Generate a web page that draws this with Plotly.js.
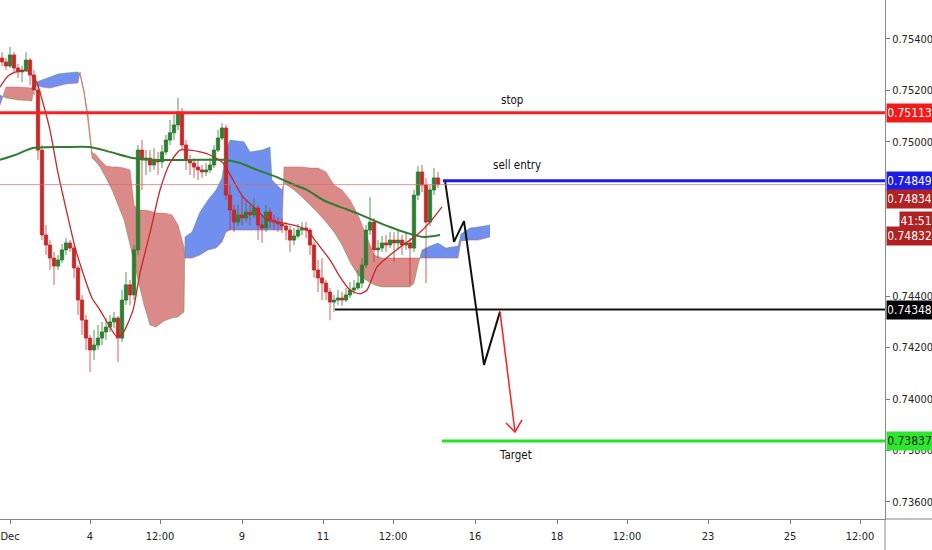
<!DOCTYPE html>
<html>
<head>
<meta charset="utf-8">
<script src="https://cdn.plot.ly/plotly-3.0.1.min.js"></script>
<style>
  html, body { margin: 0; padding: 0; background: #ffffff; }
  #chart { width: 932px; height: 550px; }
</style>
</head>
<body>
<div id="chart"></div>
<script>
// ---- AUDUSD-style price bars (one bar per slot on the time scale) ----
const open = [
  0.75326,0.75311,0.75295,0.75338,0.75287,0.75272,0.75279,0.75318,0.75260,0.75202,
  0.74968,0.74638,0.74599,0.74548,0.74517,0.74541,0.74580,0.74607,0.74587,0.74510,
  0.74385,0.74307,0.74237,0.74191,0.74210,0.74237,0.74261,0.74280,0.74300,0.74315,
  0.74237,0.74385,0.74444,0.74405,0.74580,0.74968,0.74930,0.74937,0.74910,0.74930,
  0.74922,0.74961,0.75007,0.75035,0.75066,0.75116,0.74988,0.74930,0.74918,0.74902,
  0.74891,0.74883,0.74891,0.74910,0.74968,0.75015,0.75054,0.74793,0.74735,0.74688,
  0.74716,0.74704,0.74727,0.74716,0.74743,0.74677,0.74665,0.74727,0.74696,0.74688,
  0.74681,0.74673,0.74657,0.74618,0.74634,0.74657,0.74665,0.74657,0.74599,0.74502,
  0.74471,0.74451,0.74416,0.74377,0.74385,0.74393,0.74385,0.74405,0.74424,0.74432,
  0.74451,0.74521,0.74657,0.74688,0.74580,0.74587,0.74607,0.74599,0.74618,0.74607,
  0.74618,0.74599,0.74607,0.74587,0.74793,0.74883,0.74832,0.74688,0.74813,0.74860
];
const high = [
  0.75349,0.75326,0.75369,0.75349,0.75303,0.75295,0.75349,0.75326,0.75279,0.75217,
  0.74988,0.74677,0.74618,0.74572,0.74560,0.74603,0.74626,0.74618,0.74595,0.74521,
  0.74405,0.74327,0.74249,0.74269,0.74288,0.74300,0.74315,0.74327,0.74339,0.74323,
  0.74424,0.74494,0.74463,0.74599,0.74988,0.75007,0.74968,0.74968,0.74976,0.74961,
  0.74988,0.75027,0.75085,0.75105,0.75171,0.75132,0.75007,0.74949,0.74937,0.74930,
  0.74910,0.74918,0.74937,0.74988,0.75046,0.75073,0.75066,0.74832,0.74755,0.74755,
  0.74793,0.74774,0.74755,0.74782,0.74755,0.74716,0.74755,0.74743,0.74716,0.74708,
  0.74704,0.74688,0.74673,0.74665,0.74681,0.74688,0.74688,0.74665,0.74611,0.74541,
  0.74548,0.74463,0.74432,0.74405,0.74424,0.74416,0.74432,0.74455,0.74463,0.74502,
  0.74548,0.74677,0.74786,0.74704,0.74618,0.74634,0.74638,0.74650,0.74650,0.74657,
  0.74638,0.74650,0.74626,0.74813,0.74906,0.74910,0.74860,0.74832,0.74898,0.74883
];
const low = [
  0.75295,0.75279,0.75287,0.75272,0.75248,0.75233,0.75272,0.75221,0.75182,0.74930,
  0.74618,0.74560,0.74502,0.74444,0.74502,0.74529,0.74560,0.74572,0.74471,0.74327,
  0.74249,0.74191,0.74105,0.74152,0.74191,0.74210,0.74230,0.74261,0.74276,0.74144,
  0.74222,0.74366,0.74366,0.74385,0.74560,0.74813,0.74871,0.74883,0.74891,0.74871,
  0.74898,0.74949,0.74988,0.75007,0.75046,0.74968,0.74891,0.74871,0.74860,0.74852,
  0.74860,0.74867,0.74879,0.74898,0.74961,0.75007,0.74774,0.74657,0.74650,0.74673,
  0.74677,0.74688,0.74677,0.74704,0.74618,0.74607,0.74650,0.74665,0.74657,0.74650,
  0.74646,0.74618,0.74572,0.74599,0.74626,0.74638,0.74626,0.74560,0.74471,0.74416,
  0.74385,0.74385,0.74307,0.74339,0.74366,0.74362,0.74377,0.74393,0.74409,0.74424,
  0.74432,0.74510,0.74638,0.74533,0.74548,0.74572,0.74572,0.74587,0.74533,0.74580,
  0.74560,0.74580,0.74444,0.74572,0.74774,0.74805,0.74451,0.74673,0.74793,0.74821
];
const close = [
  0.75311,0.75295,0.75338,0.75287,0.75272,0.75279,0.75318,0.75260,0.75202,0.74968,
  0.74638,0.74599,0.74548,0.74517,0.74541,0.74580,0.74607,0.74587,0.74510,0.74385,
  0.74307,0.74237,0.74191,0.74210,0.74237,0.74261,0.74280,0.74300,0.74315,0.74237,
  0.74385,0.74444,0.74405,0.74580,0.74968,0.74930,0.74937,0.74910,0.74930,0.74922,
  0.74961,0.75007,0.75035,0.75066,0.75116,0.74988,0.74930,0.74918,0.74902,0.74891,
  0.74883,0.74891,0.74910,0.74968,0.75015,0.75054,0.74793,0.74735,0.74688,0.74716,
  0.74704,0.74727,0.74716,0.74743,0.74677,0.74665,0.74727,0.74696,0.74688,0.74681,
  0.74673,0.74657,0.74618,0.74634,0.74657,0.74665,0.74657,0.74599,0.74502,0.74471,
  0.74451,0.74416,0.74377,0.74385,0.74393,0.74385,0.74405,0.74424,0.74432,0.74451,
  0.74521,0.74657,0.74688,0.74580,0.74587,0.74607,0.74599,0.74618,0.74607,0.74618,
  0.74599,0.74607,0.74587,0.74793,0.74883,0.74832,0.74688,0.74813,0.74860,0.74834
];

// ---- moving averages (bar position, value) ----
const maFastX = [-0.5,1.5,3.5,6.5,8.75,10.25,12,14,16.25,18.25,20.25,22.5,24.5,27,28.75,
  30.25,32.75,34.5,37,39.5,42,44.5,47,49.5,52,55.25,57.75,60.25,63.75,66.25,70.25,74.5,
  76.25,78.75,82,84.5,87,89.5,91.25,93.75,97,100.25,103.75,107,110];
const maFast = [0.75213,0.75256,0.75272,0.75276,0.75229,0.75151,0.75046,0.74879,0.74723,
  0.74591,0.74490,0.74393,0.74346,0.74280,0.74241,0.74257,0.74346,0.74490,0.74646,0.74813,
  0.74918,0.74968,0.74968,0.74961,0.74949,0.74918,0.74852,0.74786,0.74735,0.74696,0.74685,
  0.74669,0.74657,0.74607,0.74541,0.74475,0.74424,0.74409,0.74424,0.74514,0.74560,0.74599,
  0.74638,0.74688,0.74747];
const maSlowX = [-0.5,3.25,7.75,16.25,22,27,32.75,37,49.5,55.25,59.5,63.75,68.75,72,76.25,
  80.25,84.5,88.75,92.75,97,101.25,105.25,109.5];
const maSlow = [0.74930,0.74949,0.74976,0.74980,0.74980,0.74961,0.74937,0.74930,0.74930,
  0.74930,0.74918,0.74891,0.74863,0.74840,0.74813,0.74774,0.74747,0.74723,0.74696,0.74669,
  0.74646,0.74630,0.74638];

// ---- Ichimoku cloud: leading spans A and B (projected forward) ----
const kumoX = [-0.5,1,4,7.5,8,10,12,14,16,19,19.5,20.5,21.5,22.5,23.5,24.5,26,27.5,29,30.5,
  32,33,34,35.5,37,38.5,40.5,42.5,44,45.5,45.75,47.5,49.5,51.5,53.5,55,56,57,60.5,62,65,67,
  67.5,70,70.5,73,75,77,79,81,83,85,87,89,91,93,95,102,103,104,105,107,109,111,114,114.75,
  117,119,122];
const senkouA = [0.75182,0.75171,0.75163,0.75159,0.75229,0.75241,0.75252,0.75264,0.75268,
  0.75272,0.75260,0.75186,0.75077,0.74937,0.74922,0.74902,0.74860,0.74813,0.74755,0.74696,
  0.74599,0.74533,0.74463,0.74366,0.74288,0.74280,0.74304,0.74315,0.74319,0.74339,0.74630,
  0.74650,0.74727,0.74774,0.74813,0.74860,0.74968,0.75007,0.75000,0.74961,0.74968,0.74980,
  0.74852,0.74813,0.74840,0.74813,0.74786,0.74755,0.74723,0.74688,0.74650,0.74599,0.74533,
  0.74482,0.74463,0.74444,0.74436,0.74436,0.74451,0.74521,0.74580,0.74595,0.74607,0.74587,
  0.74595,0.74642,0.74665,0.74669,0.74677];
const senkouB = [0.75143,0.75213,0.75213,0.75209,0.75221,0.75213,0.75209,0.75217,0.75225,
  0.75229,0.75272,0.75202,0.75105,0.74961,0.74949,0.74930,0.74906,0.74902,0.74902,0.74898,
  0.74891,0.74755,0.74735,0.74735,0.74731,0.74723,0.74723,0.74716,0.74677,0.74591,0.74548,
  0.74548,0.74560,0.74580,0.74587,0.74611,0.74650,0.74657,0.74657,0.74657,0.74657,0.74657,
  0.74657,0.74657,0.74902,0.74902,0.74902,0.74898,0.74898,0.74883,0.74832,0.74813,0.74774,
  0.74716,0.74638,0.74560,0.74548,0.74548,0.74548,0.74548,0.74548,0.74548,0.74548,0.74548,
  0.74548,0.74615,0.74618,0.74618,0.74630];

// ---- trade plan levels ----
const stopLevel = 0.75113;
const entryLevel = 0.74849;
const supportLevel = 0.74348;
const targetLevel = 0.73837;
const bidLevel = 0.74832;
const countdown = '41:51';
const entryStart = 110.25, supportStart = 83.25, targetStart = 110;

// ---- projected path drawn on the chart ----
const pathX = [110.75, 113, 115.5, 120.5, 124.5];
const pathY = [0.74849, 0.74611, 0.74692, 0.74133, 0.74340];
const arrowX = [124.5, 128.25];
const arrowY = [0.74340, 0.73872];
const arrowHeadX = [126, 128.25, 130];
const arrowHeadY = [0.73907, 0.73872, 0.73919];

// ---- axes ----
const timeTickPos = [2, 22, 39.5, 60, 80.25, 97.75, 118.25, 138.75, 156.25, 176.5, 197, 214.5];
const timeTickText = ['Dec', '4', '12:00', '9', '11', '12:00', '16', '18', '12:00', '23', '25', '12:00'];
// price scale marks (0.74600 / 0.74800 sit under the price tags)
const priceTicks = [0.736, 0.738, 0.740, 0.742, 0.744, 0.750, 0.752, 0.754];

const xRange = [-0.5, 220.75];
const yRange = [0.735337, 0.755516];
const FONT = '"Liberation Sans Narrow", "Arial Narrow", "DejaVu Sans Condensed", sans-serif';

const barIndex = close.map((_, i) => i);
const lastClose = close[close.length - 1];

// split the cloud into runs where one span stays above the other
function kumoRuns() {
  const runs = [];
  let cur = { bull: senkouA[0] >= senkouB[0], x: [kumoX[0]], a: [senkouA[0]], b: [senkouB[0]] };
  for (let i = 1; i < kumoX.length; i++) {
    const d0 = senkouA[i - 1] - senkouB[i - 1];
    const d1 = senkouA[i] - senkouB[i];
    if ((d0 >= 0) !== (d1 >= 0)) {
      const t = d0 / (d0 - d1);
      const xc = kumoX[i - 1] + t * (kumoX[i] - kumoX[i - 1]);
      const yc = senkouA[i - 1] + t * (senkouA[i] - senkouA[i - 1]);
      cur.x.push(xc); cur.a.push(yc); cur.b.push(yc);
      runs.push(cur);
      cur = { bull: d1 >= 0, x: [xc], a: [yc], b: [yc] };
    }
    cur.x.push(kumoX[i]); cur.a.push(senkouA[i]); cur.b.push(senkouB[i]);
  }
  runs.push(cur);
  return runs;
}

function pathOf(xs, ys, closed) {
  let p = 'M' + xs[0] + ',' + ys[0];
  for (let i = 1; i < xs.length; i++) p += 'L' + xs[i] + ',' + ys[i];
  return closed ? p + 'Z' : p;
}

const shapes = [];
kumoRuns().forEach(r => {
  const xs = r.x.concat(r.x.slice().reverse());
  const ys = r.a.concat(r.b.slice().reverse());
  shapes.push({
    type: 'path', xref: 'x', yref: 'y', layer: 'below',
    path: pathOf(xs, ys, true),
    fillcolor: r.bull ? 'rgba(72,112,235,0.78)' : 'rgba(195,60,60,0.6)',
    line: { width: 0 }
  });
});
shapes.push({ type: 'path', xref: 'x', yref: 'y', layer: 'below', path: pathOf(kumoX, senkouA, false),
  line: { color: 'rgba(80,150,80,0.45)', width: 1 } });
shapes.push({ type: 'path', xref: 'x', yref: 'y', layer: 'below', path: pathOf(kumoX, senkouB, false),
  line: { color: 'rgba(220,90,90,0.5)', width: 1 } });

// last-price line across the chart
shapes.push({ type: 'line', xref: 'paper', yref: 'y', x0: 0, x1: 1, y0: lastClose, y1: lastClose,
  line: { color: 'rgba(215,110,110,0.7)', width: 1 } });
// stop
shapes.push({ type: 'line', xref: 'paper', yref: 'y', x0: 0, x1: 1, y0: stopLevel, y1: stopLevel,
  line: { color: '#ff1e1e', width: 3 } });
// entry
shapes.push({ type: 'line', xref: 'x', yref: 'y', x0: entryStart, x1: xRange[1], y0: entryLevel, y1: entryLevel,
  line: { color: '#1a1af0', width: 3 } });
// support
shapes.push({ type: 'line', xref: 'x', yref: 'y', x0: supportStart, x1: xRange[1], y0: supportLevel, y1: supportLevel,
  line: { color: '#111111', width: 2 } });
// target
shapes.push({ type: 'line', xref: 'x', yref: 'y', x0: targetStart, x1: xRange[1], y0: targetLevel, y1: targetLevel,
  line: { color: '#22e622', width: 3 } });
// price scale border continues down through the time scale
shapes.push({ type: 'line', xref: 'paper', yref: 'paper', x0: 1, x1: 1, y0: 0, y1: -31 / 519,
  line: { color: '#888888', width: 1 } });
shapes.push({ type: 'line', xref: 'paper', yref: 'paper', x0: 1, x1: 932 / 885, y0: 0, y1: 0,
  line: { color: '#888888', width: 1 } });

function priceTag(y, text, bg, fg, yshift, xshift, w) {
  return {
    xref: 'paper', yref: 'y', x: 1, y: y, xanchor: 'left', yanchor: 'middle',
    xshift: xshift, yshift: yshift, showarrow: false,
    text: text, bgcolor: bg, width: w, height: 16, borderpad: 1, align: 'center',
    font: { family: FONT, size: 12, color: fg }
  };
}
function caption(x, y, text, yshift) {
  return {
    xref: 'x', yref: 'y', x: x, y: y, yshift: yshift, showarrow: false,
    text: text, font: { family: FONT, size: 11.5, color: '#111111' }
  };
}

const annotations = [
  caption(127.5, stopLevel, 'stop', 13),
  caption(128.75, entryLevel, 'sell entry', 16),
  caption(128.25, targetLevel, 'Target', -14),
  priceTag(stopLevel, stopLevel.toFixed(5), '#f01c1c', '#ffffff', 0, 1, 43),
  priceTag(entryLevel, entryLevel.toFixed(5), '#1c1ce8', '#ffffff', 0, 1, 43),
  priceTag(lastClose, lastClose.toFixed(5), '#b22222', '#ffffff', -14, 1, 43),
  priceTag(lastClose, countdown, '#b22222', '#ffffff', -36, 14, 30),
  priceTag(lastClose, bidLevel.toFixed(5), '#b22222', '#ffffff', -51, 1, 43),
  priceTag(supportLevel, supportLevel.toFixed(5), '#000000', '#ffffff', 0, 1, 43),
  priceTag(targetLevel, targetLevel.toFixed(5), '#2ee62e', '#0b2a0b', 0, 1, 43)
];

const traces = [
  {
    type: 'candlestick', x: barIndex, open: open, high: high, low: low, close: close,
    increasing: { line: { color: 'rgba(46,125,50,0.8)', width: 1 }, fillcolor: '#2e7d32' },
    decreasing: { line: { color: 'rgba(200,40,40,0.75)', width: 1 }, fillcolor: '#c62828' },
    whiskerwidth: 0, hoverinfo: 'skip'
  },
  { type: 'scatter', mode: 'lines', x: maSlowX, y: maSlow, line: { color: '#2e7d32', width: 2, shape: 'spline', smoothing: 0.6 }, hoverinfo: 'skip' },
  { type: 'scatter', mode: 'lines', x: maFastX, y: maFast, line: { color: '#c62828', width: 1.3, shape: 'spline', smoothing: 0.6 }, hoverinfo: 'skip' },
  { type: 'scatter', mode: 'lines', x: pathX, y: pathY, line: { color: '#111111', width: 2 }, hoverinfo: 'skip' },
  { type: 'scatter', mode: 'lines', x: arrowX, y: arrowY, line: { color: '#ff2020', width: 1.5 }, hoverinfo: 'skip' },
  { type: 'scatter', mode: 'lines', x: arrowHeadX, y: arrowHeadY, line: { color: '#ff2020', width: 1.5 }, hoverinfo: 'skip' }
];

const layout = {
  width: 932, height: 550,
  margin: { l: 0, r: 47, t: 0, b: 31, pad: 0 },
  paper_bgcolor: '#ffffff', plot_bgcolor: '#ffffff',
  showlegend: false, dragmode: false, hovermode: false,
  boxgap: 0.15, boxgroupgap: 0,
  xaxis: {
    type: 'linear', range: xRange, fixedrange: true, automargin: false,
    rangeslider: { visible: false },
    tickmode: 'array', tickvals: timeTickPos, ticktext: timeTickText,
    ticks: 'outside', ticklen: 4, tickcolor: '#777777', ticklabelstandoff: 3,
    ticklabeloverflow: 'allow',
    showgrid: false, zeroline: false, showline: true, linecolor: '#888888', linewidth: 1,
    tickfont: { family: FONT, size: 11, color: '#222222' }
  },
  yaxis: {
    side: 'right', range: yRange, fixedrange: true, automargin: false,
    tickmode: 'array', tickvals: priceTicks, tickformat: '.5f',
    ticks: 'outside', ticklen: 4, tickcolor: '#777777',
    showgrid: false, zeroline: false, showline: true, linecolor: '#888888', linewidth: 1,
    tickfont: { family: FONT, size: 11, color: '#222222' }
  },
  shapes: shapes,
  annotations: annotations
};

Plotly.newPlot('chart', traces, layout, { displayModeBar: false, staticPlot: true });
</script>
</body>
</html>
